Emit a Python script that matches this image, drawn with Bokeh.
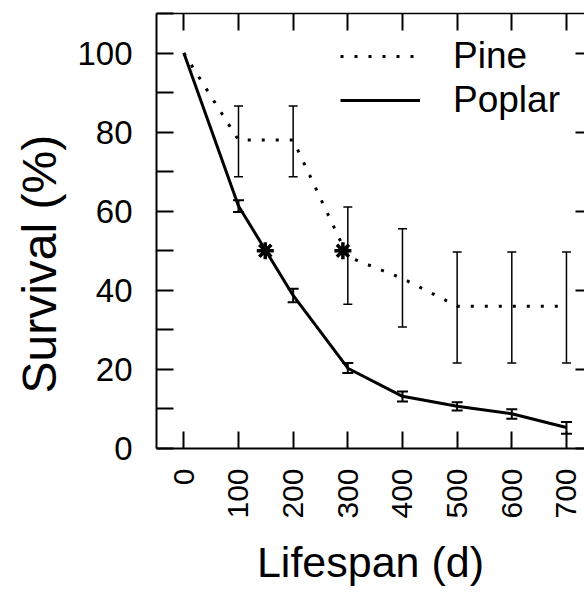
import math
from bokeh.plotting import figure
from bokeh.models import (LinearAxis, FixedTicker, Whisker, ColumnDataSource,
                          TeeHead, Legend, LegendItem, Title)
from bokeh.embed import file_html
from bokeh.resources import INLINE

# ---- data ----
days = [0, 100, 200, 300, 400, 500, 600, 700]

pine_mean = [100, 78, 78, 48.5, 43, 36, 36, 36]
pine_lower = [None, 68.7, 68.7, 36.5, 30.7, 21.6, 21.6, 21.6]
pine_upper = [None, 86.6, 86.6, 61.1, 55.6, 49.7, 49.7, 49.7]

poplar_mean = [100, 61.3, 38.7, 20.3, 13.2, 10.7, 8.8, 5.3]
poplar_lower = [None, 59.8, 37.0, 19.1, 11.9, 9.6, 7.5, 3.7]
poplar_upper = [None, 62.8, 40.4, 21.6, 14.4, 11.7, 9.9, 6.7]

half_life_x = [149, 291]     # poplar, pine
half_life_y = [50, 50]

x_ticks = [0, 100, 200, 300, 400, 500, 600, 700]
y_major = [0, 20, 40, 60, 80, 100]
y_minor = [10, 30, 50, 70, 90, 110]

FONT = "Liberation Sans"

p = figure(width=584, height=594, x_range=(-50, 733), y_range=(0, 110),
           output_backend="svg", toolbar_location=None,
           min_border_left=156, min_border_right=0, min_border_top=13,
           min_border_bottom=146)
p.outline_line_color = None
p.grid.visible = False
p.background_fill_color = "white"
p.border_fill_color = "white"

# main axes
xa = p.xaxis[0]
xa.ticker = FixedTicker(ticks=x_ticks)
xa.major_label_orientation = math.pi / 2
xa.major_tick_in = 17
xa.major_tick_out = 0
xa.minor_tick_in = 0
xa.minor_tick_out = 0
xa.major_tick_line_width = 2
xa.axis_line_width = 2
xa.major_label_standoff = 20
xa.major_label_text_font = FONT
xa.major_label_text_font_size = "30px"
xa.major_label_text_color = "black"
xa.axis_label = "Lifespan (d)"
xa.axis_label_text_font = FONT
xa.axis_label_text_font_style = "normal"
xa.axis_label_text_font_size = "43px"
xa.axis_label_text_color = "black"
xa.axis_label_standoff = 16

ya = p.yaxis[0]
ya.ticker = FixedTicker(ticks=y_major, minor_ticks=y_minor)
ya.major_tick_in = 17
ya.major_tick_out = 0
ya.minor_tick_in = 17
ya.minor_tick_out = 0
ya.major_tick_line_width = 2
ya.minor_tick_line_width = 2
ya.axis_line_width = 2
ya.major_label_standoff = 24
ya.major_label_text_font = FONT
ya.major_label_text_font_size = "33px"
ya.major_label_text_color = "black"

# y-axis title as a side title so it can sit lower, like the reference
p.add_layout(Title(text="Survival (%)", align="left", offset=55, standoff=18,
                   text_font=FONT, text_font_size="48px", text_font_style="normal",
                   text_color="black"), "left")

# top and right axes (ticks only)
top = LinearAxis(ticker=FixedTicker(ticks=x_ticks), major_tick_in=17, major_tick_out=0,
                 minor_tick_in=0, minor_tick_out=0,
                 major_label_overrides={float(t): "" for t in x_ticks},
                 major_label_standoff=0, axis_line_width=1.5, major_tick_line_width=2)
p.add_layout(top, "above")
right = LinearAxis(ticker=FixedTicker(ticks=y_major), major_tick_in=9, major_tick_out=0,
                   minor_tick_in=0, minor_tick_out=0,
                   major_label_overrides={float(t): "" for t in y_major},
                   major_label_standoff=0, axis_line_color=None, major_tick_line_width=2)
p.add_layout(right, "right")

# lines
r_pine = p.line(days, pine_mean, line_color="black", line_width=3, line_dash="3 11")
r_poplar = p.line(days, poplar_mean, line_color="black", line_width=3)

# error bars
src_pine = ColumnDataSource(dict(x=days[1:], lo=pine_lower[1:], hi=pine_upper[1:]))
src_pop = ColumnDataSource(dict(x=days[1:], lo=poplar_lower[1:], hi=poplar_upper[1:]))
p.add_layout(Whisker(source=src_pine, base="x", lower="lo", upper="hi",
                     line_color="black", line_width=1.5,
                     upper_head=TeeHead(size=9, line_width=1.5),
                     lower_head=TeeHead(size=9, line_width=1.5)))
p.add_layout(Whisker(source=src_pop, base="x", lower="lo", upper="hi",
                     line_color="black", line_width=2,
                     upper_head=TeeHead(size=11, line_width=2),
                     lower_head=TeeHead(size=11, line_width=2)))

# half-life stars
p.scatter(half_life_x, half_life_y, marker="asterisk", size=17,
          line_color="black", line_width=3.5)

legend = Legend(items=[LegendItem(label="Pine", renderers=[r_pine]),
                       LegendItem(label="Poplar", renderers=[r_poplar])],
                location=(184, 326), glyph_width=80, glyph_height=44,
                label_height=44, label_standoff=33, spacing=0, padding=0, margin=0,
                border_line_color=None, background_fill_alpha=0,
                label_text_font=FONT, label_text_font_size="37px",
                label_text_color="black")
p.add_layout(legend)

open("out.html", "w").write(file_html(p, INLINE))
